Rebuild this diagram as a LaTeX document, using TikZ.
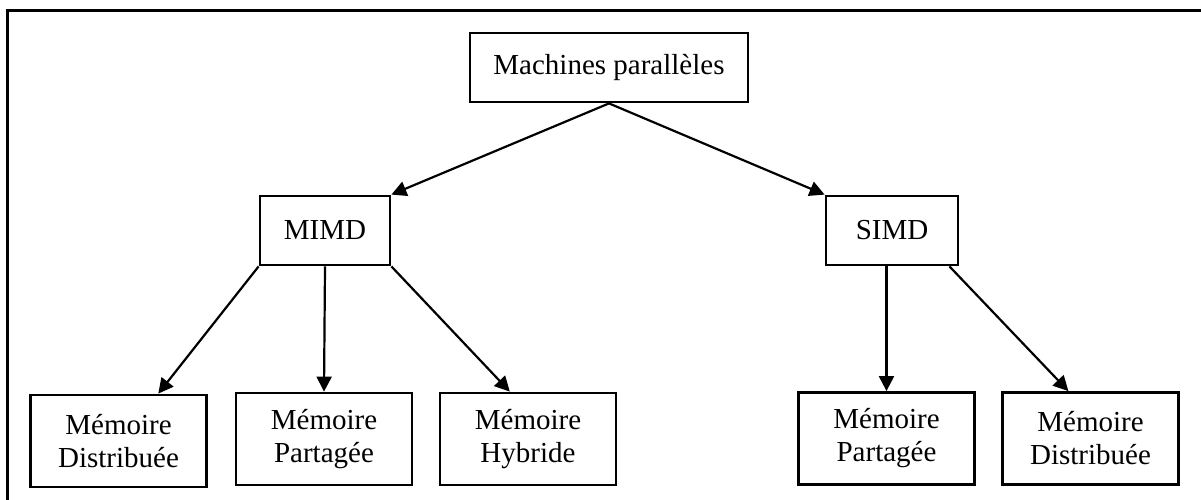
\documentclass[tikz,border=0pt]{standalone}
\usepackage{fontspec}
\setmainfont{Liberation Serif}
\usetikzlibrary{arrows.meta, positioning}

\begin{document}
\begin{tikzpicture}[x=1pt, y=-1pt,
    box/.style={draw, line width=2.8pt, rectangle, inner sep=0pt, align=center,
      font=\fontsize{29}{33}\selectfont},
    membox/.style={box, minimum width=176pt, minimum height=92pt},
    link/.style={-{Triangle[length=15pt, width=15pt]}, line width=2.2pt}]
      \useasboundingbox (0,0) rectangle (1201,499);

      % Outer frame (only left and top edges are visible)
      \draw[line width=3.2pt] (7.5,505) -- (7.5,10.5) -- (1210,10.5);

      % Root
      \node[box, minimum width=278pt, minimum height=69pt] (top) at (609,67.5) {Machines parallèles};

      % Second level
      \node[box, minimum width=130pt, minimum height=69pt] (mimd) at (325,230.5) {MIMD};
      \node[box, minimum width=132pt, minimum height=69pt] (simd) at (892,230.5) {SIMD};

      % Memory models
      \node[membox] (mem1) at (118.5,441) {Mémoire\\Distribuée};
      \node[membox] (mem2) at (324,439) {Mémoire\\Partagée};
      \node[membox] (mem3) at (528,439) {Mémoire\\Hybride};
      \node[membox] (mem4) at (886.5,438.5) {Mémoire\\Partagée};
      \node[membox] (mem5) at (1090.5,438.5) {Mémoire\\Distribuée};

      % Arrows from the root
      \path [link] (top.south) edge (mimd.north east);
      \path [link] (top.south) edge (simd.north west);

      % Arrows from MIMD
      \path [link] (mimd.south west) edge (mem1.50);
      \path [link] (mimd.south) edge (mem2.north);
      \path [link] (mimd.south east) edge (mem3.111);

      % Arrows from SIMD
      \path [link] (simd.south -| mem4.north) edge (mem4.north);
      \path [link] (simd.-32) edge (mem5.115);
\end{tikzpicture}
\end{document}
